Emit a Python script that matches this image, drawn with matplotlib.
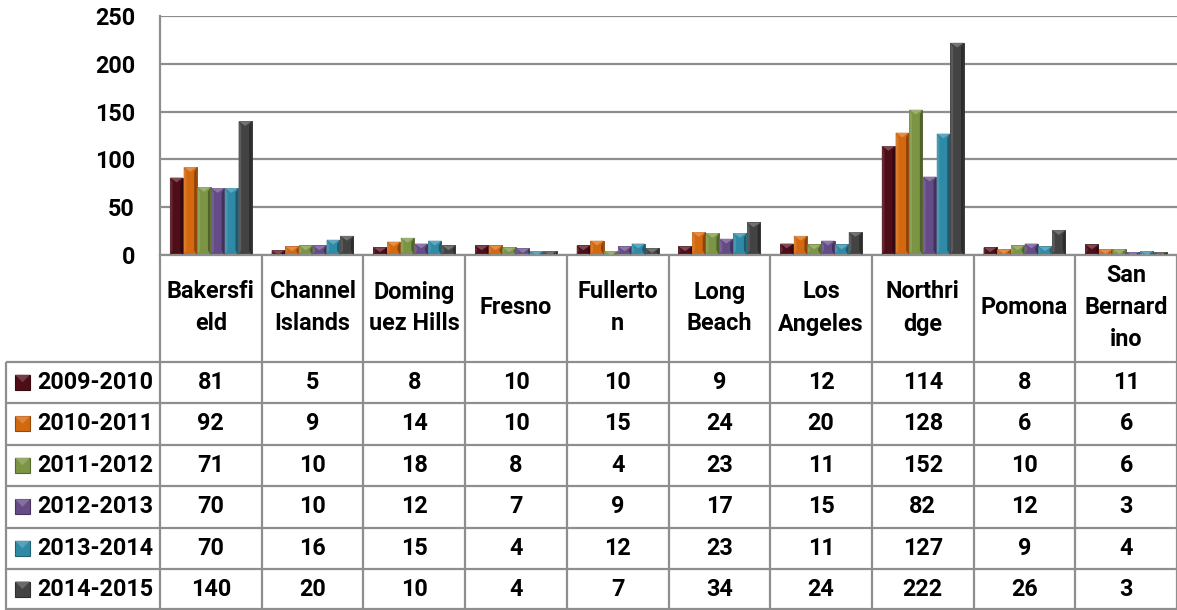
import matplotlib
matplotlib.use("Agg")
import matplotlib.pyplot as plt
from matplotlib.patches import Polygon, Rectangle
import matplotlib.colors as mcolors
import numpy as np

categories = ["Bakersfi\neld", "Channel\nIslands", "Doming\nuez Hills", "Fresno",
              "Fullerto\nn", "Long\nBeach", "Los\nAngeles", "Northri\ndge",
              "Pomona", "San\nBernard\nino"]
series_names = ["2009-2010", "2010-2011", "2011-2012", "2012-2013", "2013-2014", "2014-2015"]
v2009 = [81, 5, 8, 10, 10, 9, 12, 114, 8, 11]
v2010 = [92, 9, 14, 10, 15, 24, 20, 128, 6, 6]
v2011 = [71, 10, 18, 8, 4, 23, 11, 152, 10, 6]
v2012 = [70, 10, 12, 7, 9, 17, 15, 82, 12, 3]
v2013 = [70, 16, 15, 4, 12, 23, 11, 127, 9, 4]
v2014 = [140, 20, 10, 4, 7, 34, 24, 222, 26, 3]
series_values = [v2009, v2010, v2011, v2012, v2013, v2014]
yticks = [0, 50, 100, 150, 200, 250]
colors = ["#4f0d18", "#d4680f", "#7b9544", "#654b87", "#2f8aa6", "#434343"]

W, H = 1177, 610
fig = plt.figure(figsize=(W / 100, H / 100), dpi=100)
FONT = "Roboto"
FW = "bold"
FS = 16.8
grid_c = "#8e8e8e"

# pixel geometry
ax_left, ax_right, ax_top, ax_bot = 160, 1177, 16, 255
ax = fig.add_axes([ax_left / W, 1 - ax_bot / H, (ax_right - ax_left) / W, (ax_bot - ax_top) / H])
n = len(categories)
ax.set_xlim(-0.5, n - 0.5)
ax.set_ylim(0, 250)
ax.set_yticks(yticks)
ax.set_yticklabels([str(t) for t in yticks], fontfamily=FONT, fontweight=FW, fontsize=FS)
ax.tick_params(axis="y", length=0, pad=18)
ax.tick_params(axis="x", length=0, labelbottom=False)
ax.yaxis.grid(True, color=grid_c, linewidth=1.6)
ax.set_axisbelow(True)
for s in ["top", "right"]:
    ax.spines[s].set_visible(False)
for s in ["left", "bottom"]:
    ax.spines[s].set_color(grid_c)
    ax.spines[s].set_linewidth(1.6)
ax.spines["left"].set_zorder(0.5)

x = np.arange(n)
nser = len(series_values)
group = 0.81
bw = group / nser


def shade(c, f):
    r, g, b = mcolors.to_rgb(c)
    if f >= 0:
        return (r + (1 - r) * f, g + (1 - g) * f, b + (1 - b) * f)
    return (r * (1 + f), g * (1 + f), b * (1 + f))


for i, (vals, col) in enumerate(zip(series_values, colors)):
    offs = x - group / 2 + bw * (i + 0.5)
    bars = ax.bar(offs, vals, width=bw * 0.96, color=col, edgecolor=shade(col, -0.35),
                  linewidth=0.6, zorder=2, label=series_names[i])
    for p in bars:
        x0, w, h = p.get_x(), p.get_width(), p.get_height()
        d = w * 0.2
        vd = min(5.0, h)
        ax.add_patch(Polygon([(x0 + w - d, vd), (x0 + w, 0), (x0 + w, h), (x0 + w - d, h - vd)],
                             closed=True, facecolor=shade(col, -0.35), edgecolor="none", zorder=3))
        ax.add_patch(Polygon([(x0 + d, vd), (x0, 0), (x0, h), (x0 + d, h - vd)],
                             closed=True, facecolor=shade(col, 0.12), edgecolor="none", zorder=3))
        ax.add_patch(Polygon([(x0, h), (x0 + w, h), (x0 + w / 2, h - vd)],
                             closed=True, facecolor=shade(col, 0.25), edgecolor="none", zorder=3))

# ---- data table (pixel coordinate overlay) ----
tab = fig.add_axes([0, 0, 1, 1])
tab.set_xlim(0, W)
tab.set_ylim(H, 0)
tab.axis("off")
tab.patch.set_alpha(0)

col_w = (ax_right - ax_left) / n
row_lines = [361.5, 403, 444.5, 486, 527.5, 569, 609]
line_kw = dict(color=grid_c, linewidth=1.6, solid_capstyle="butt")
for k in range(n + 1):
    xx = ax_left + k * col_w
    tab.plot([xx, xx], [ax_bot, 610], **line_kw)
tab.plot([6, 6], [row_lines[0], 610], **line_kw)
for yy in row_lines:
    tab.plot([6, W], [yy, yy], **line_kw)

for k, cat in enumerate(categories):
    cx = ax_left + (k + 0.5) * col_w
    tab.text(cx, 308, cat, ha="center", va="center", fontfamily=FONT, fontweight=FW,
             fontsize=FS, linespacing=1.5)

for r, (name, vals, col) in enumerate(zip(series_names, series_values, colors)):
    cy = (row_lines[r] + row_lines[r + 1]) / 2
    tab.add_patch(Rectangle((15, cy - 7.5), 15, 15, facecolor=col, edgecolor=shade(col, -0.3), linewidth=0.8))
    tab.add_patch(Polygon([(15, cy - 7.5), (30, cy - 7.5), (22.5, cy)], closed=True,
                          facecolor=shade(col, 0.2), edgecolor="none"))
    tab.text(37, cy, name, ha="left", va="center", fontfamily=FONT, fontweight=FW, fontsize=FS)
    for k, v in enumerate(vals):
        cx = ax_left + (k + 0.5) * col_w
        tab.text(cx, cy, str(v), ha="center", va="center", fontfamily=FONT, fontweight=FW, fontsize=FS)

fig.savefig("out.png", dpi=100, facecolor="white")
